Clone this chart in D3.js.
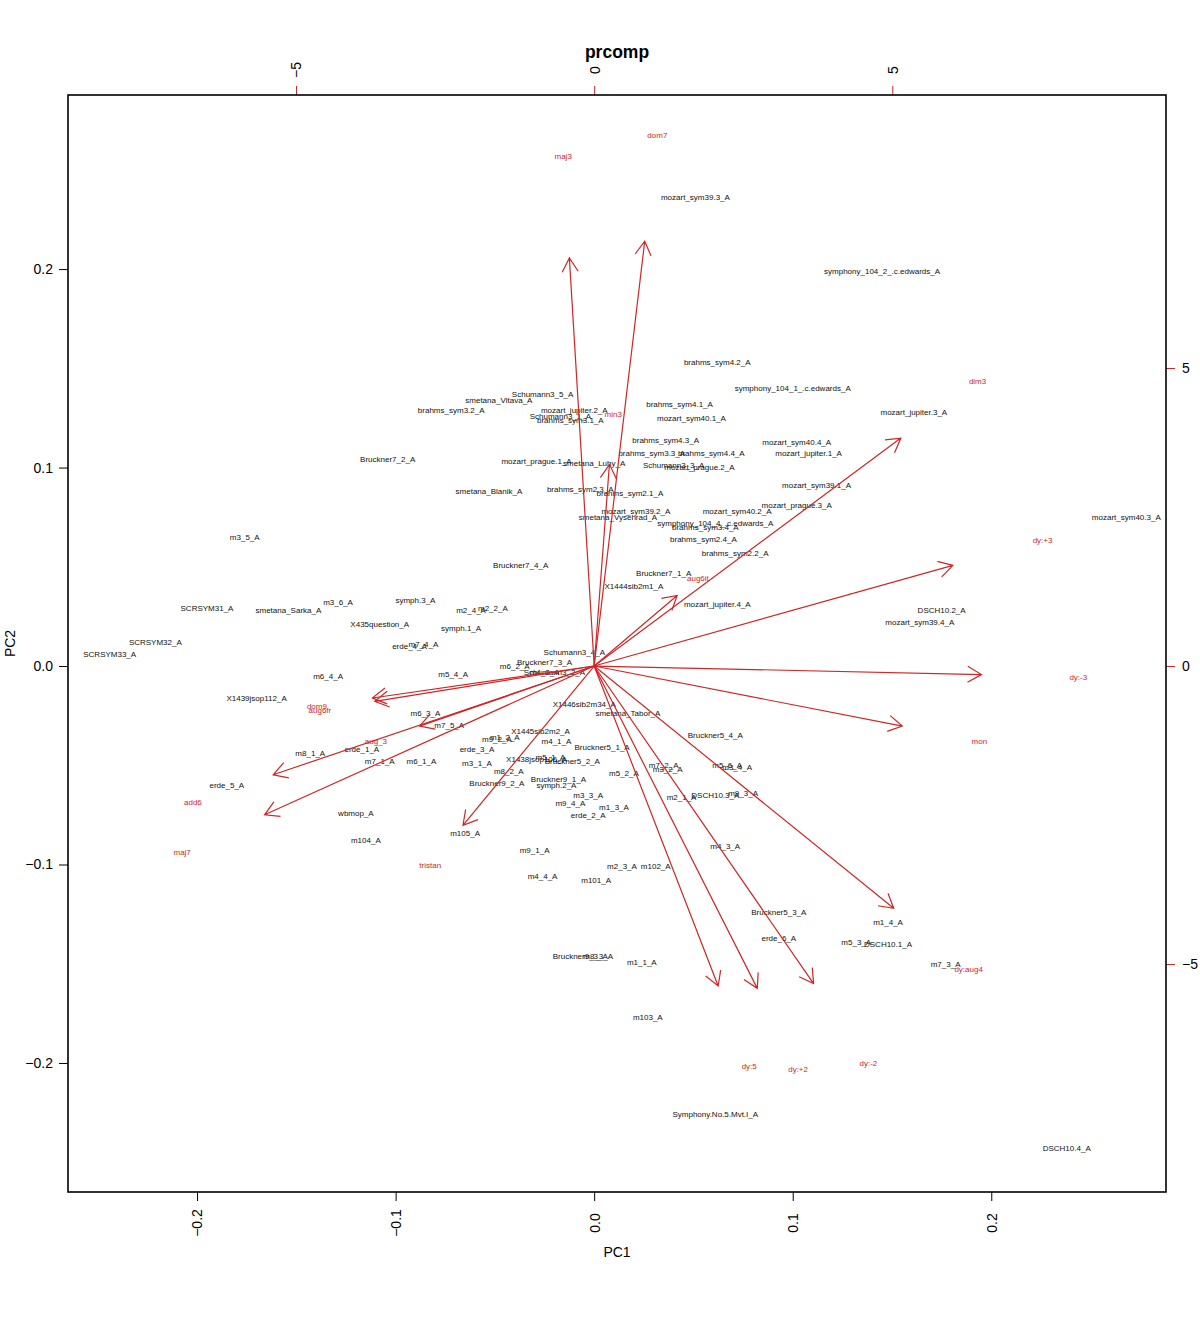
<!DOCTYPE html>
<html>
<head>
<meta charset="utf-8">
<script src="https://cdn.jsdelivr.net/npm/d3@7"></script>
<style>
body { margin: 0; background: #fff; }
text { font-family: "Liberation Sans", Arial, sans-serif; }
</style>
</head>
<body>
<svg id="chart_svg" width="1200" height="1344"></svg>
<script>
'use strict';

// observation scores (PC1, PC2)
const obsNames = ["mozart_sym39.3_A","symphony_104_2_.c.edwards_A","brahms_sym4.2_A","symphony_104_1_.c.edwards_A","mozart_jupiter.3_A",
	"Schumann3_5_A","smetana_Vltava_A","brahms_sym3.2_A","mozart_jupiter.2_A","Schumann3_1_A","brahms_sym3.1_A","brahms_sym4.1_A",
	"mozart_sym40.1_A","brahms_sym4.3_A","mozart_sym40.4_A","brahms_sym3.3_A","brahms_sym4.4_A","mozart_jupiter.1_A","Bruckner7_2_A",
	"mozart_prague.1_A","smetana_Luhy_A","Schumann3_3_A","mozart_prague.2_A","mozart_sym39.1_A","smetana_Blanik_A","brahms_sym2.3_A",
	"brahms_sym2.1_A","mozart_prague.3_A","mozart_sym39.2_A","mozart_sym40.2_A","smetana_Vysehrad_A","symphony_104_4_.c.edwards_A",
	"brahms_sym3.4_A","brahms_sym2.4_A","mozart_sym40.3_A","m3_5_A","brahms_sym2.2_A","Bruckner7_4_A","Bruckner7_1_A","X1444sib2m1_A",
	"mozart_jupiter.4_A","SCRSYM31_A","smetana_Sarka_A","m3_6_A","symph.3_A","m2_4_A","m2_2_A","DSCH10.2_A","mozart_sym39.4_A",
	"X435question_A","symph.1_A","erde_4_A","m7_4_A","SCRSYM32_A","SCRSYM33_A","Schumann3_4_A","Bruckner7_3_A","m6_2_A","m4_2_A",
	"Schumann3_2_A","m6_4_A","m5_4_A","X1439jsop112_A","X1446sib2m34_A","smetana_Tabor_A","m6_3_A","m7_5_A","X1445sib2m2_A","m9_2_A",
	"m1_2_A","m4_1_A","Bruckner5_1_A","Bruckner5_4_A","erde_3_A","m8_1_A","erde_1_A","m7_1_A","m6_1_A","m3_1_A","X1438jsop106_A",
	"m5_1_A","Bruckner5_2_A","m8_2_A","m5_2_A","m7_2_A","m3_2_A","m5_6_A","m3_4_A","Bruckner9_2_A","Bruckner9_1_A","symph.2_A","m3_3_A",
	"DSCH10.3_A","m9_3_A","m2_1_A","m9_4_A","m1_3_A","erde_2_A","wbmop_A","m105_A","m104_A","erde_5_A","m4_3_A","m9_1_A","m2_3_A",
	"m102_A","m4_4_A","m101_A","Bruckner5_3_A","m1_4_A","erde_6_A","m5_3_A","DSCH10.1_A","Bruckner9_3_A","m8_3_A","m1_1_A","m7_3_A",
	"m103_A","Symphony.No.5.Mvt.I_A","DSCH10.4_A"];
const obsPC1 = [0.051,0.145,0.062,0.100,0.161,
	-0.026,-0.048,-0.072,-0.010,-0.017,-0.012,0.043,
	0.049,0.036,0.102,0.029,0.059,0.108,-0.104,
	-0.029,0.000,0.040,0.053,0.112,-0.053,-0.007,
	0.018,0.102,0.021,0.072,0.012,0.061,
	0.056,0.055,0.268,-0.176,0.071,-0.037,0.035,0.020,
	0.062,-0.195,-0.154,-0.129,-0.090,-0.062,-0.051,0.175,0.164,
	-0.108,-0.067,-0.093,-0.086,-0.221,-0.244,-0.010,-0.025,-0.040,-0.025,
	-0.020,-0.134,-0.071,-0.170,-0.005,0.017,-0.085,-0.073,-0.027,-0.049,
	-0.045,-0.019,0.004,0.061,-0.059,-0.143,-0.117,-0.108,-0.087,-0.059,-0.029,
	-0.022,-0.011,-0.043,0.015,0.035,0.037,0.067,0.072,-0.049,-0.018,-0.019,-0.003,
	0.061,0.075,0.044,-0.012,0.010,-0.003,-0.120,-0.065,-0.115,-0.185,0.066,-0.030,0.014,
	0.031,-0.026,0.001,0.093,0.148,0.093,0.132,0.148,-0.007,0.002,0.024,0.177,
	0.027,0.061,0.238];
const obsPC2 = [0.236,0.199,0.153,0.140,0.128,
	0.137,0.134,0.129,0.129,0.126,0.124,0.132,
	0.125,0.114,0.113,0.107,0.107,0.107,0.104,
	0.103,0.102,0.101,0.100,0.091,0.088,0.089,
	0.087,0.081,0.078,0.078,0.075,0.072,
	0.070,0.064,0.075,0.065,0.057,0.051,0.047,0.040,
	0.031,0.029,0.028,0.032,0.033,0.028,0.029,0.028,0.022,
	0.021,0.019,0.010,0.011,0.012,0.006,0.007,0.002,0.000,-0.003,
	-0.003,-0.005,-0.004,-0.016,-0.019,-0.024,-0.024,-0.030,-0.033,-0.037,
	-0.036,-0.038,-0.041,-0.035,-0.042,-0.044,-0.042,-0.048,-0.048,-0.049,-0.047,
	-0.046,-0.048,-0.053,-0.054,-0.050,-0.052,-0.050,-0.051,-0.059,-0.057,-0.060,-0.065,
	-0.065,-0.064,-0.066,-0.069,-0.071,-0.075,-0.074,-0.084,-0.088,-0.060,-0.091,-0.093,-0.101,
	-0.101,-0.106,-0.108,-0.124,-0.129,-0.137,-0.139,-0.140,-0.146,-0.146,-0.149,-0.150,
	-0.177,-0.226,-0.243];

// variable loadings (label positions, arrows drawn to 0.8 of them)
const varNames = ["maj3","dom7","min3","dim3","aug6it","dy:+3","dy:-3","mon","dom9","aug6fr",
	"aug_3","add6","maj7","tristan","dy:5","dy:+2","dy:-2","dy:aug4"];
const varX = [-0.52,1.06,0.32,6.43,1.74,7.52,8.12,6.46,-4.65,-4.60,
	-3.66,-6.73,-6.91,-2.75,2.60,3.42,4.60,6.28];
const varY = [8.56,8.91,4.23,4.78,1.48,2.11,-0.18,-1.26,-0.67,-0.74,
	-1.26,-2.28,-3.12,-3.34,-6.71,-6.76,-6.66,-5.08];

const pcTicks = [-0.2, -0.1, 0.0, 0.1, 0.2];
const varTicks = [-5, 0, 5];

const red = "#d42424";
const fmtPC = (d) => d3.format(".1f")(d).replace("-", "\u2212");
const fmtVar = (d) => String(d).replace("-", "\u2212");

const svg = d3.select("#chart_svg"),
	plot = {left: 68, right: 1166, top: 95, bottom: 1192};

const xDom = [-0.265, 0.288], yDom = [-0.265, 0.2877], ratio = 33.3;

const x = d3.scaleLinear().domain(xDom).range([plot.left, plot.right]),
	y = d3.scaleLinear().domain(yDom).range([plot.bottom, plot.top]),
	xTop = d3.scaleLinear().domain(xDom.map((d) => d * ratio)).range([plot.left, plot.right]),
	yRight = d3.scaleLinear().domain(yDom.map((d) => d * ratio)).range([plot.bottom, plot.top]);

const tick = 9;

// bottom axis
const gb = svg.append("g").attr("transform", "translate(0," + plot.bottom + ")")
	.call(d3.axisBottom(x).tickValues(pcTicks).tickSize(tick).tickFormat(fmtPC));
gb.selectAll("text")
	.attr("transform", "rotate(-90)")
	.attr("x", -31).attr("y", 0).attr("dy", "0.35em")
	.style("text-anchor", "middle");

// left axis
svg.append("g").attr("transform", "translate(" + plot.left + ",0)")
	.call(d3.axisLeft(y).tickValues(pcTicks).tickSize(tick).tickFormat(fmtPC))
	.selectAll("text").attr("x", -15);

// top axis (loadings)
const gt = svg.append("g").attr("transform", "translate(0," + plot.top + ")")
	.call(d3.axisTop(xTop).tickValues(varTicks).tickSize(tick).tickFormat(fmtVar));
gt.selectAll("line").attr("stroke", red);
gt.selectAll("text")
	.attr("transform", "rotate(-90)")
	.attr("x", 25).attr("y", 0).attr("dy", "0.35em")
	.style("text-anchor", "middle");

// right axis (loadings)
const gr = svg.append("g").attr("transform", "translate(" + plot.right + ",0)")
	.call(d3.axisRight(yRight).tickValues(varTicks).tickSize(tick).tickFormat(fmtVar));
gr.selectAll("line").attr("stroke", red);
gr.selectAll("text").attr("x", 16);

svg.selectAll(".domain").remove();
svg.selectAll(".tick text").style("font-size", "14px").attr("fill", "#000");

// frame
svg.append("rect")
	.attr("x", plot.left).attr("y", plot.top)
	.attr("width", plot.right - plot.left).attr("height", plot.bottom - plot.top)
	.attr("fill", "none").attr("stroke", "#000").attr("stroke-width", 1.6);

// titles
svg.append("text").attr("x", (plot.left + plot.right) / 2).attr("y", 52)
	.attr("text-anchor", "middle").attr("dy", "0.35em")
	.style("font-size", "17.5px").style("font-weight", "bold").text("prcomp");
svg.append("text").attr("x", (plot.left + plot.right) / 2).attr("y", 1252)
	.attr("text-anchor", "middle").attr("dy", "0.35em")
	.style("font-size", "14px").text("PC1");
svg.append("text").attr("transform", "translate(10," + (plot.top + plot.bottom) / 2 + ") rotate(-90)")
	.attr("text-anchor", "middle").attr("dy", "0.35em")
	.style("font-size", "14px").text("PC2");

// observations
const obs = obsNames.map((n, i) => ({name: n, pc1: obsPC1[i], pc2: obsPC2[i]}));
svg.append("g").selectAll("text")
	.data(obs)
	.enter().append("text")
		.attr("x", (d) => x(d.pc1))
		.attr("y", (d) => y(d.pc2))
		.attr("dy", "0.35em")
		.attr("text-anchor", "middle")
		.style("font-size", "8px")
		.attr("fill", "#111")
		.text((d) => d.name);

// loadings: arrows and labels
const vars = varNames.map((n, i) => ({name: n, vx: varX[i], vy: varY[i]}));
const x0 = xTop(0), y0 = yRight(0), head = 16, ang = Math.PI / 6;

const arrow = svg.append("g").selectAll("g")
	.data(vars)
	.enter().append("g");

arrow.append("path")
	.attr("fill", "none")
	.attr("stroke", red)
	.attr("stroke-width", 1.2)
	.attr("d", (d) => {
		const tx = xTop(d.vx * 0.8), ty = yRight(d.vy * 0.8);
		const a = Math.atan2(ty - y0, tx - x0);
		const p = d3.path();
		p.moveTo(x0, y0); p.lineTo(tx, ty);
		p.moveTo(tx - head * Math.cos(a - ang), ty - head * Math.sin(a - ang));
		p.lineTo(tx, ty);
		p.lineTo(tx - head * Math.cos(a + ang), ty - head * Math.sin(a + ang));
		return p.toString();
	});

arrow.append("text")
	.attr("x", (d) => xTop(d.vx))
	.attr("y", (d) => yRight(d.vy))
	.attr("dy", "0.35em")
	.attr("text-anchor", "middle")
	.style("font-size", "8px")
	.attr("fill", red)
	.text((d) => d.name);
</script>
</body>
</html>
